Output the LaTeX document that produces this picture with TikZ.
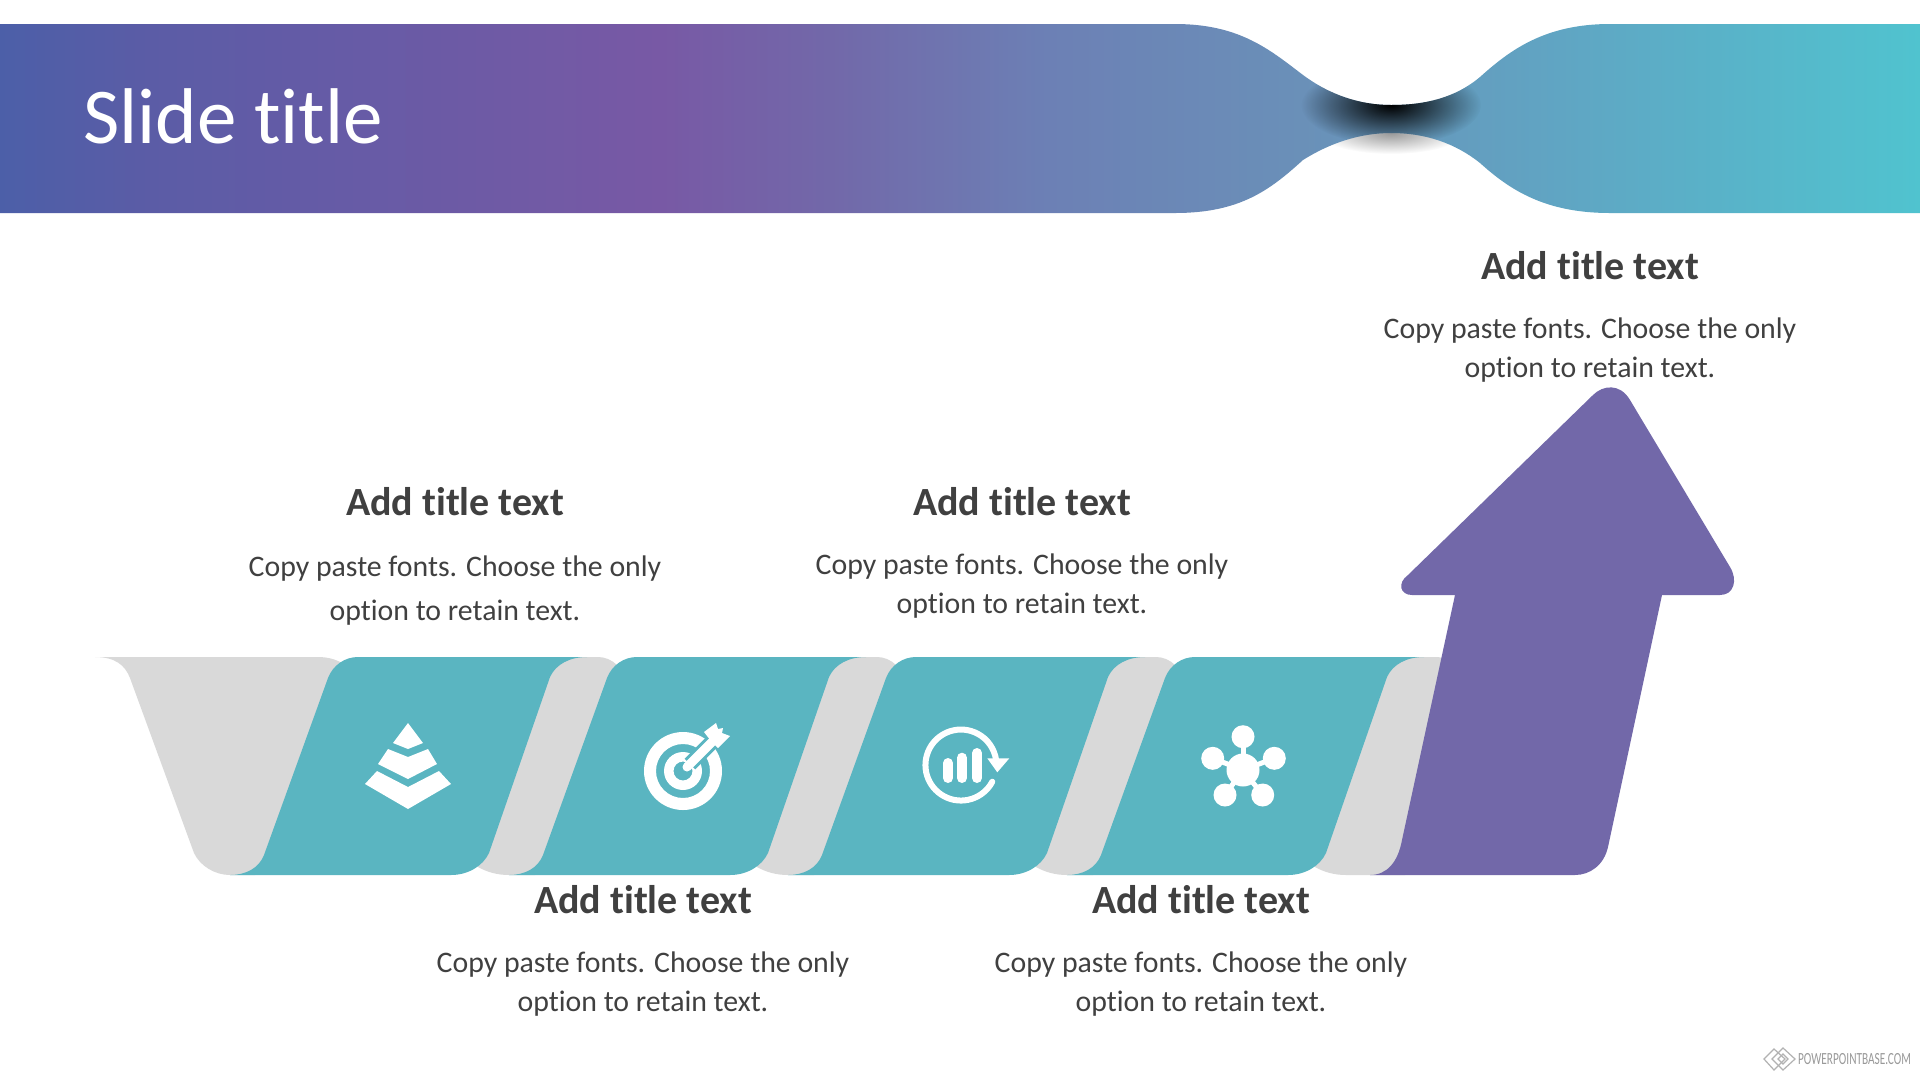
\documentclass[tikz,border=0pt]{standalone}
\usepackage{fontspec}
\setmainfont{Carlito}[Ligatures=CommonOff]
\usetikzlibrary{fadings}
\definecolor{bannerA}{HTML}{4C5FA8}
\definecolor{bannerB}{HTML}{5B5CA6}
\definecolor{bannerC}{HTML}{7859A5}
\definecolor{bannerD}{HTML}{7268A9}
\definecolor{bannerE}{HTML}{6C80B5}
\definecolor{bannerF}{HTML}{6A90B8}
\definecolor{bannerG}{HTML}{60A5C3}
\definecolor{bannerH}{HTML}{50C3CF}
\definecolor{stepteal}{HTML}{5AB5C1}
\definecolor{stepgrey}{HTML}{D9D9D9}
\definecolor{arrowpurple}{HTML}{7268A9}
\definecolor{textgrey}{HTML}{404040}
\pgfdeclarehorizontalshading{bannershade}{100bp}{color(0bp)=(bannerA); color(25bp)=(bannerA); color(28.9bp)=(bannerB); color(42.2bp)=(bannerC); color(46.6bp)=(bannerD); color(52.3bp)=(bannerE); color(58.9bp)=(bannerF); color(65.6bp)=(bannerG); color(75bp)=(bannerH); color(100bp)=(bannerH)}
\tikzfading[name=glowfade, inner color=transparent!0, outer color=transparent!100]
\tikzstyle{headtext} = [font=\fontsize{40}{40}\selectfont\bfseries, text=textgrey]
\tikzstyle{bodytext} = [font=\fontsize{29.8}{39}\selectfont, text=textgrey, align=center]
\tikzstyle{widetext} = [font=\fontsize{29.8}{44}\selectfont, text=textgrey, align=center]
\tikzstyle{greyshape} = [fill=stepgrey]
\tikzstyle{tealshape} = [fill=stepteal]
\tikzstyle{icon} = [fill=white]
\tikzstyle{iconline} = [draw=white, line cap=round]

\begin{document}
\begin{tikzpicture}[x=1pt, y=-1pt]
\useasboundingbox (0,0) rectangle (1920,1080);
\fill[white] (0,0) rectangle (1920,1080);

%banner
\fill[black, opacity=.4, path fading=glowfade] (1391,133) ellipse (72 and 21);
\def\bannerpath{(0,24) -- (1175,24) .. controls (1240,24) and (1270,50) .. (1303,75) .. controls (1330,95) and (1360,105) .. (1391,105) .. controls (1425,105) and (1455,98) .. (1480,77) .. controls (1510,50) and (1545,24) .. (1610,24) -- (1920,24) -- (1920,213) -- (1610,213) .. controls (1545,213) and (1510,190) .. (1480,163) .. controls (1455,143) and (1425,133) .. (1391,133) .. controls (1360,133) and (1330,143) .. (1303,160) .. controls (1270,190) and (1240,213) .. (1175,213) -- (0,213) -- cycle}
\path[shading=bannershade] \bannerpath;
\begin{scope}
\clip \bannerpath;
\fill[black, path fading=glowfade] (1391,105) ellipse (90 and 40);
\end{scope}
\node(slidetitle)at(83,143)[anchor=base west, text=white, inner sep=0pt, font=\fontsize{79}{79}\selectfont]{Slide title};

%grey strips
\fill[greyshape] (95,657) .. controls (115,657) and (125,665) .. (130,678) -- (194,853) .. controls (200,866) and (215,875) .. (230,875) -- (255,875) -- (290,860) -- (360,680) -- (342,663) .. controls (335,659) and (327,657) .. (318,657) -- cycle;
\foreach \s in {0,279,558}
\fill[greyshape, xshift=\s] (560,657) -- (598,657) .. controls (605,657) and (612,660) .. (617,665) -- (627,690) -- (565,860) -- (535,875) -- (509,875) .. controls (497,875) and (487,872) .. (478,867) -- (470,850) -- (540,672) -- cycle;
\fill[greyshape] (1397,657) -- (1435,657) .. controls (1440,657) and (1446,658) .. (1452,662) -- (1460,690) -- (1405,875) -- (1346,875) .. controls (1334,875) and (1324,872) .. (1315,867) -- (1307,850) -- (1377,672) -- cycle;

%teal steps
\foreach \s in {0,279,558,837}
\fill[tealshape, xshift=\s] (230,875) .. controls (246,875) and (259,868) .. (264,855) -- (328,678) .. controls (333,665) and (345,657) .. (358,657) -- (587,657) .. controls (570,657) and (556,664) .. (550,677) -- (489,853) .. controls (483,866) and (468,875) .. (451,875) -- cycle;

%arrow
\fill[arrowpurple] (1370,875) .. controls (1387,875) and (1398,862) .. (1402,840) -- (1455,595) -- (1412,595) .. controls (1400,595) and (1397,583) .. (1408,575) -- (1593,395) .. controls (1603,385) and (1620,383) .. (1630,400) -- (1730,567) .. controls (1738,580) and (1734,595) .. (1720,595) -- (1662,595) -- (1608,847) .. controls (1604,865) and (1590,875) .. (1575,875) -- cycle;

%pyramid icon
\fill[icon] (408,723) -- (423,743) -- (408,749) -- (393,743) -- cycle;
\fill[icon] (388,749) -- (408,757) -- (428,749) -- (437,764) -- (408,779) -- (378,764) -- cycle;
\fill[icon] (377,771) -- (408,787) -- (439,771) -- (451,784) -- (408,809) -- (365,784) -- cycle;

%target icon
\fill[icon, even odd rule] (683,771) circle (39) (683,771) circle (27);
\fill[icon, even odd rule] (683,771) circle (19) (683,771) circle (9.5);
\draw[draw=stepteal, line width=15] (690,764) -- (722,732);
\draw[iconline, line width=9] (687,767) -- (712,742);
\fill[icon] (704,732) -- (716,723) -- (718,729) -- (723,728) -- (722,733) -- (730,736) -- (718,748) -- (711,741) -- cycle;

%chart icon
\draw[iconline, line width=6] (992.3,781.7) arc[start angle=28, end angle=352, radius=35.5];
\fill[icon] (987.3,758.3) -- (1009.3,758.3) -- (997.3,772.3) -- cycle;
\draw[iconline, line width=10] (948,763) -- (948,778);
\draw[iconline, line width=10] (962,757.7) -- (962,778);
\draw[iconline, line width=10] (977,753) -- (977,778);

%network icon
\foreach \px/\py in {1243/736.7, 1212.7/758.3, 1274.3/758.3, 1225/795, 1262.7/795}{
\draw[iconline, line width=5] (1243,770) -- (\px,\py);
\fill[icon] (\px,\py) circle (11.5);
}
\fill[icon] (1243,770) circle (16.5);

%texts
\node(head1)at(455,502)[headtext]{Add title text};
\node(copy1)at(455,590.5)[widetext]{Copy paste fonts. Choose the only\\option to retain text.};
\node(head2)at(1022,502)[headtext]{Add title text};
\node(copy2)at(1022,586.5)[bodytext]{Copy paste fonts. Choose the only\\option to retain text.};
\node(head3)at(643,900)[headtext]{Add title text};
\node(copy3)at(643,984.5)[bodytext]{Copy paste fonts. Choose the only\\option to retain text.};
\node(head4)at(1201,900)[headtext]{Add title text};
\node(copy4)at(1201,984.5)[bodytext]{Copy paste fonts. Choose the only\\option to retain text.};
\node(head5)at(1590,266)[headtext]{Add title text};
\node(copy5)at(1590,350.5)[bodytext]{Copy paste fonts. Choose the only\\option to retain text.};

%watermark
\draw[draw=black!30, line width=1.2] (1764,1059) -- (1774,1049) -- (1785,1059) -- (1774,1070) -- cycle;
\draw[draw=black!30, line width=1.2] (1772,1059) -- (1783,1048) -- (1795,1059) -- (1783,1070) -- cycle;
\draw[draw=black!30, line width=1.2] (1778,1059) -- (1783,1054) -- (1788,1059) -- (1783,1064) -- cycle;
\node(mark)at(1798,1059)[anchor=west, inner sep=0pt, text=black!40, xscale=.665, transform shape, font=\fontsize{17}{17}\selectfont]{POWERPOINTBASE.COM};
\end{tikzpicture}
\end{document}
